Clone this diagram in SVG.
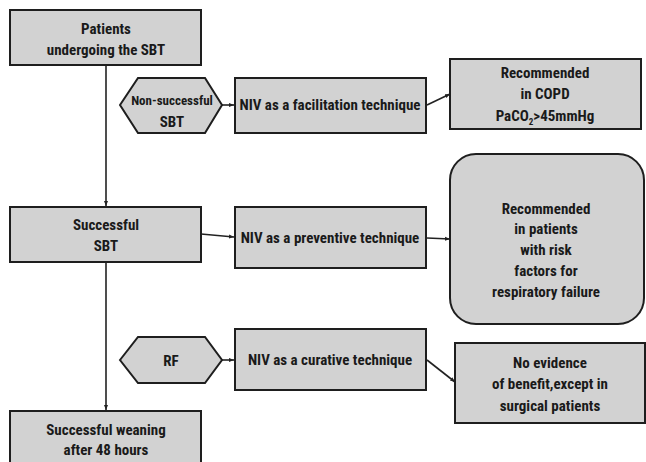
<svg xmlns="http://www.w3.org/2000/svg" width="646" height="462" viewBox="0 0 646 462">
<defs>
<style>
.box{fill:#d2d2d2;stroke:#1e1e1e;stroke-width:2}
.t{font-family:"Liberation Sans Narrow","Roboto Condensed","DejaVu Sans Condensed","Liberation Sans",sans-serif;font-weight:bold;font-size:15px;fill:#1a1a1a;text-anchor:middle}
.c{fill:none;stroke:#222;stroke-width:1.6}
</style>
<marker id="ah" viewBox="0 0 10 10" refX="10" refY="5" markerWidth="5" markerHeight="5" orient="auto" markerUnits="userSpaceOnUse">
<path d="M0,1 L10,5 L0,9 Z" fill="#222"/>
</marker>
</defs>
<rect width="646" height="462" fill="#fff"/>
<g id="connectors">
<line class="c" x1="106" y1="65" x2="106" y2="206" marker-end="url(#ah)"/>
<line class="c" x1="106" y1="262" x2="106" y2="410" marker-end="url(#ah)"/>
<line class="c" x1="222" y1="105" x2="234" y2="105" marker-end="url(#ah)"/>
<line class="c" x1="427" y1="105" x2="450" y2="94" marker-end="url(#ah)"/>
<line class="c" x1="201" y1="234" x2="234" y2="237" marker-end="url(#ah)"/>
<line class="c" x1="427" y1="238" x2="450" y2="239" marker-end="url(#ah)"/>
<line class="c" x1="222" y1="360" x2="234" y2="360" marker-end="url(#ah)"/>
<line class="c" x1="427" y1="360" x2="455" y2="382" marker-end="url(#ah)"/>
</g>
<g id="patients">
<rect class="box" x="10" y="10" width="191" height="55"/>
<text class="t" x="106" y="34">Patients</text>
<text class="t" x="106" y="55">undergoing the SBT</text>
</g>
<g id="nonsuccessful">
<polygon class="box" points="120,105 138,78 205,78 222,105 205,133 138,133"/>
<text class="t" x="172" y="105" style="font-size:13px">Non-successful</text>
<text class="t" x="172" y="127">SBT</text>
</g>
<g id="facilitation">
<rect class="box" x="235" y="78" width="191" height="55"/>
<text class="t" x="330" y="110">NIV as a facilitation technique</text>
</g>
<g id="copd">
<rect class="box" x="450" y="59" width="191" height="70"/>
<text class="t" x="545" y="78">Recommended</text>
<text class="t" x="545" y="99">in COPD</text>
<text class="t" x="545" y="121">PaCO<tspan font-size="9" dy="4">2</tspan><tspan dy="-4">&gt;45mmHg</tspan></text>
</g>
<g id="successful">
<rect class="box" x="10" y="207" width="191" height="55"/>
<text class="t" x="106" y="230">Successful</text>
<text class="t" x="106" y="251">SBT</text>
</g>
<g id="preventive">
<rect class="box" x="235" y="207" width="191" height="61"/>
<text class="t" x="330" y="243">NIV as a preventive technique</text>
</g>
<g id="riskfactors">
<rect class="box" x="450" y="154" width="194" height="170" rx="26" ry="26"/>
<text class="t" x="546" y="214">Recommended</text>
<text class="t" x="546" y="234">in patients</text>
<text class="t" x="546" y="255">with risk</text>
<text class="t" x="546" y="276">factors for</text>
<text class="t" x="546" y="297">respiratory failure</text>
</g>
<g id="rf">
<polygon class="box" points="120,360 138,337 205,337 222,360 205,383 138,383"/>
<text class="t" x="171" y="366">RF</text>
</g>
<g id="curative">
<rect class="box" x="235" y="329" width="191" height="61"/>
<text class="t" x="330" y="365">NIV as a curative technique</text>
</g>
<g id="noevidence">
<rect class="box" x="455" y="343" width="190" height="80"/>
<text class="t" x="550" y="368">No evidence</text>
<text class="t" x="550" y="389">of benefit,except in</text>
<text class="t" x="550" y="411">surgical patients</text>
</g>
<g id="weaning">
<rect class="box" x="10" y="411" width="191" height="60"/>
<text class="t" x="106" y="435">Successful weaning</text>
<text class="t" x="106" y="455">after 48 hours</text>
</g>
</svg>
